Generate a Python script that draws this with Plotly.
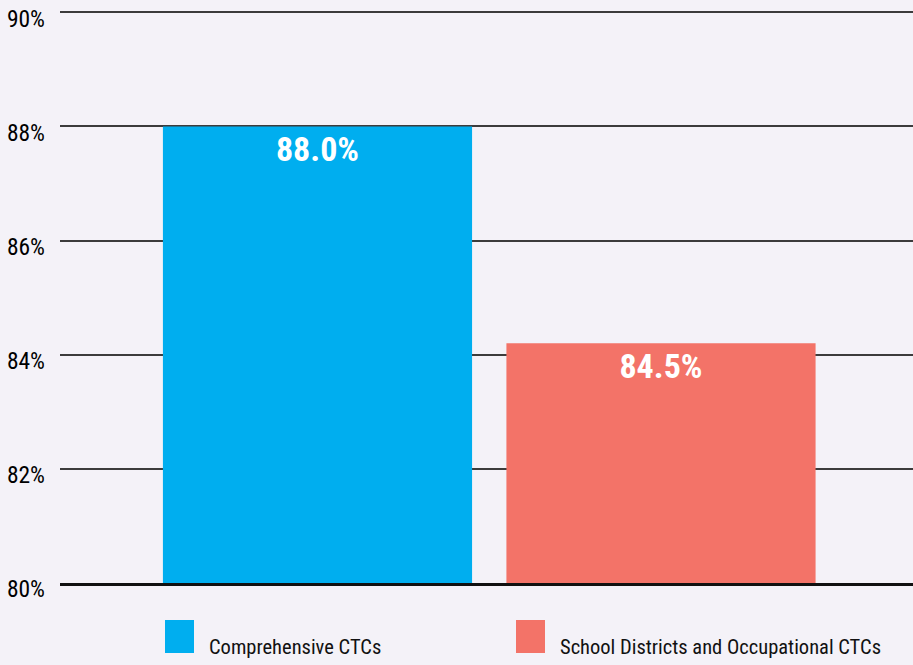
import plotly.graph_objects as go

categories = ["Comprehensive CTCs", "School Districts and Occupational CTCs"]
values = [88.0, 84.2]
value_labels = ["88.0%", "84.5%"]
colors = ["#00AEEF", "#F37368"]
y_ticks = [80, 82, 84, 86, 88, 90]
y_tick_labels = ["80%", "82%", "84%", "86%", "88%", "90%"]

FONT = "Roboto Condensed, Open Sans Condensed, sans-serif"
BG = "#F4F2F8"

fig = go.Figure()
for cat, val, lab, col in zip(categories, values, value_labels, colors):
    fig.add_trace(go.Bar(
        x=[cat], y=[val], name=cat, width=0.9,
        marker=dict(color=col, line=dict(width=0)),
        text=[lab], textposition="inside", insidetextanchor="end",
        textfont=dict(family=FONT, size=34, color="white", weight="bold"),
        showlegend=False,
    ))

# manual legend (large square swatches)
leg_x = [(165 - 60) / 853, (516 - 60) / 853]
sw = 29 / 853
for i, (cat, col) in enumerate(zip(categories, colors)):
    x0 = leg_x[i]
    fig.add_shape(type="rect", xref="paper", yref="paper",
                  x0=x0, x1=x0 + sw, y0=-0.1222, y1=-0.0645,
                  fillcolor=col, line=dict(width=0))
    fig.add_annotation(xref="paper", yref="paper", x=x0 + sw + 13 / 853, y=-0.111,
                       text=cat, showarrow=False, xanchor="left", yanchor="middle",
                       font=dict(family=FONT, size=20.5, color="#111"))

fig.update_layout(
    width=913, height=665,
    margin=dict(l=60, r=0, t=10, b=82, pad=0),
    paper_bgcolor=BG, plot_bgcolor=BG,
    barmode="overlay",
    showlegend=False,
    font=dict(family=FONT, color="#111"),
)
fig.update_xaxes(type="category", range=[-0.7496, 1.7336], showticklabels=False,
                 showgrid=False, showline=True, linecolor="#111", linewidth=3,
                 ticks="", fixedrange=True)
fig.update_yaxes(range=[80, 90.04], tickvals=y_ticks, ticktext=y_tick_labels,
                 showgrid=True, gridcolor="#3c3c3c", gridwidth=1.5,
                 zeroline=False, showline=False, ticks="",
                 ticklabelstandoff=14, ticklabelshift=6,
                 tickfont=dict(family=FONT, size=23.5, color="#000"),
                 fixedrange=True)

fig.write_html("out.html", config={"displayModeBar": False})
with open("out.html", encoding="utf-8") as f:
    html = f.read()
html = html.replace("<head>", "<head><style>html,body{margin:0;padding:0;}</style>", 1)
with open("out.html", "w", encoding="utf-8") as f:
    f.write(html)
